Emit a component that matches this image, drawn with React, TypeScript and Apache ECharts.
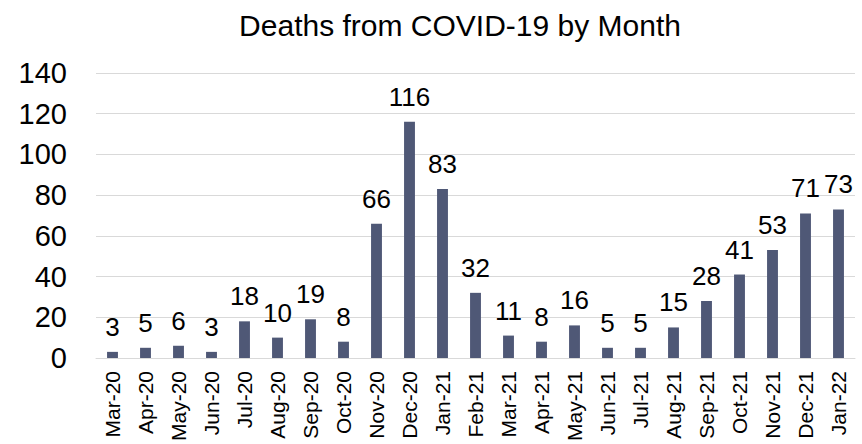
import React, { useEffect, useRef } from "react";
import * as echarts from "echarts";

const categories = [
  "Mar-20", "Apr-20", "May-20", "Jun-20", "Jul-20", "Aug-20", "Sep-20", "Oct-20",
  "Nov-20", "Dec-20", "Jan-21", "Feb-21", "Mar-21", "Apr-21", "May-21", "Jun-21",
  "Jul-21", "Aug-21", "Sep-21", "Oct-21", "Nov-21", "Dec-21", "Jan-22",
];
const deaths = [3, 5, 6, 3, 18, 10, 19, 8, 66, 116, 83, 32, 11, 8, 16, 5, 5, 15, 28, 41, 53, 71, 73];
const title = "Deaths from COVID-19 by Month";

const FONT = "'Liberation Sans', Arial, sans-serif";

export default function App() {
  const ref = useRef<HTMLDivElement>(null);
  useEffect(() => {
    if (!ref.current) return;
    const chart = echarts.init(ref.current, undefined, { renderer: "svg" });
    chart.setOption({
      animation: false,
      backgroundColor: "#ffffff",
      title: {
        text: title,
        left: 455,
        textAlign: "center",
        top: 5,
        textStyle: { fontFamily: FONT, fontSize: 30, fontWeight: "normal", color: "#000000" },
      },
      grid: { left: 96, right: 7, top: 73, bottom: 84, containLabel: false },
      xAxis: {
        type: "category",
        data: categories,
        axisLine: { show: true, lineStyle: { color: "#d9d9d9", width: 1 } },
        axisTick: { show: false },
        axisLabel: {
          rotate: 90,
          interval: 0,
          margin: 13,
          fontFamily: FONT,
          fontSize: 21,
          color: "#000000",
        },
      },
      yAxis: {
        type: "value",
        min: 0,
        max: 140,
        interval: 20,
        axisLine: { show: false },
        axisTick: { show: false },
        splitLine: { lineStyle: { color: "#d9d9d9", width: 1 } },
        axisLabel: { margin: 29, fontFamily: FONT, fontSize: 29, color: "#000000" },
      },
      series: [
        {
          type: "bar",
          data: deaths,
          barWidth: "33%",
          itemStyle: { color: "#4F5876" },
          label: {
            show: true,
            position: "top",
            distance: 12,
            fontFamily: FONT,
            fontSize: 26,
            color: "#000000",
          },
        },
      ],
    });
    return () => chart.dispose();
  }, []);
  return (
    <div
      ref={ref}
      style={{ position: "absolute", left: 0, top: 0, width: 862, height: 444 }}
    />
  );
}
